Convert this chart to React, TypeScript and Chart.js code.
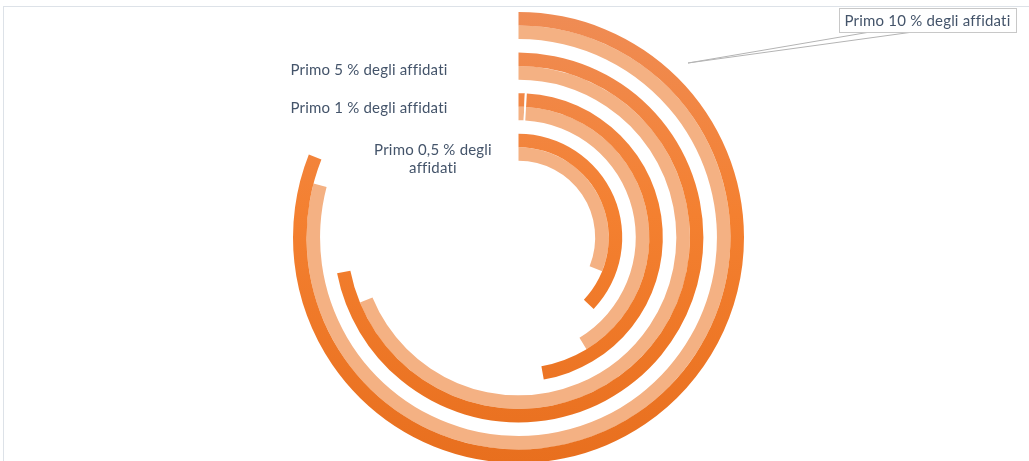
import React, { useEffect, useRef } from 'react';
import { Chart, registerables } from 'chart.js';

Chart.register(...registerables);

// ---- data (percent of a full turn) ----
const categories = [
  'Primo 10 % degli affidati',
  'Primo 5 % degli affidati',
  'Primo 1 % degli affidati',
  'Primo 0,5 % degli affidati',
];
const seriesDark = [81.0, 71.9, 47.2, 37.1];
const seriesLight = [79.1, 68.8, 41.3, 31.1];
// small first slice shown separated by a thin white line (only on "Primo 1 %")
const leadSliceDark = [0, 0, 0.7, 0];
const leadSliceLight = [0, 0, 0.7, 0];
const fullTurn = 100;

// ---- styles ----
const W = 1029;
const H = 461;
const OUTER_RADIUS = 225.5;
const CUTOUT = '34%';
const LIGHT = '#F4B183';
const TEXT = '#44546A';
const FONT = 'Lato, "Open Sans", sans-serif';
const SEP = 0.22;

function darkGradient(chart: any) {
  const area = chart.chartArea;
  if (!area) return '#F07D32';
  const cy = (area.top + area.bottom) / 2;
  const g = chart.ctx.createLinearGradient(0, cy - OUTER_RADIUS, 0, cy + OUTER_RADIUS);
  g.addColorStop(0, '#EF8C55');
  g.addColorStop(0.45, '#F48030');
  g.addColorStop(1, '#E86F1E');
  return g;
}

function ringDataset(value: number, lead: number, kind: 'dark' | 'light', label: string) {
  const data = lead > 0 ? [lead, SEP, value - lead - SEP, fullTurn - value] : [value, fullTurn - value];
  const roles = lead > 0 ? ['fill', 'sep', 'fill', 'none'] : ['fill', 'none'];
  return {
    label,
    data,
    backgroundColor: (ctx: any) => {
      const role = roles[ctx.dataIndex];
      if (role === 'none') return 'rgba(0,0,0,0)';
      if (role === 'sep') return '#FFFFFF';
      return kind === 'dark' ? darkGradient(ctx.chart) : LIGHT;
    },
    borderWidth: 0,
  };
}

function buildDatasets() {
  const ds: any[] = [];
  categories.forEach((cat, i) => {
    ds.push(ringDataset(seriesDark[i], leadSliceDark[i], 'dark', cat + ' (A)'));
    ds.push(ringDataset(seriesLight[i], leadSliceLight[i], 'light', cat + ' (B)'));
    if (i < categories.length - 1) {
      ds.push({ label: 'gap', data: [fullTurn], backgroundColor: 'rgba(0,0,0,0)', borderWidth: 0 });
    }
  });
  return ds;
}

const framePlugin = {
  id: 'frame',
  beforeDraw(chart: any) {
    const ctx = chart.ctx;
    ctx.save();
    ctx.strokeStyle = '#DDE2E8';
    ctx.lineWidth = 1;
    ctx.strokeRect(3.5, 6.5, W + 20, H + 20);
    ctx.restore();
  },
};

const labelPlugin = {
  id: 'ringLabels',
  afterDatasetsDraw(chart: any) {
    const ctx = chart.ctx;
    const arc = chart.getDatasetMeta(0).data[0];
    if (!arc) return;
    const cx = arc.x;
    const cy = arc.y;
    ctx.save();
    ctx.font = '15px ' + FONT;
    try { (ctx as any).letterSpacing = '0.2px'; } catch (e) { /* ignore */ }
    ctx.fillStyle = TEXT;
    ctx.textAlign = 'center';
    ctx.textBaseline = 'alphabetic';

    // Primo 10 % : callout box with wedge leader
    const bx = cx + 320.5;
    const by = cy - 229.5;
    const bw = 177;
    const bh = 24;
    ctx.strokeStyle = '#B4B4B4';
    ctx.lineWidth = 1;
    ctx.beginPath();
    ctx.moveTo(cx + 169.5, cy - 174.5);
    ctx.lineTo(bx + 31, by + bh);
    ctx.moveTo(cx + 169.5, cy - 174.5);
    ctx.lineTo(bx + 74, by + bh);
    ctx.stroke();
    ctx.fillStyle = '#FFFFFF';
    ctx.fillRect(bx, by, bw, bh);
    ctx.strokeStyle = '#C8C8C8';
    ctx.strokeRect(Math.round(bx) + 0.5, Math.round(by) + 0.5, bw, bh);
    ctx.fillStyle = TEXT;
    ctx.fillText(categories[0], bx + bw / 2, by + 18);

    ctx.fillText(categories[1], cx - 149.5, cy - 162.5);
    ctx.fillText(categories[2], cx - 149.5, cy - 124.5);
    ctx.fillText('Primo 0,5 % degli', cx - 85.5, cy - 82.5);
    ctx.fillText('affidati', cx - 85.5, cy - 64.5);
    ctx.restore();
  },
};

export default function App() {
  const ref = useRef<HTMLCanvasElement | null>(null);
  useEffect(() => {
    if (!ref.current) return;
    const chart = new Chart(ref.current, {
      type: 'doughnut',
      data: { labels: ['a', 'b', 'c', 'd'], datasets: buildDatasets() },
      options: {
        responsive: false,
        animation: false,
        events: [],
        radius: OUTER_RADIUS,
        cutout: CUTOUT,
        rotation: 0,
        layout: { padding: { left: 8, right: 0, top: 14, bottom: 0 } },
        plugins: { legend: { display: false }, tooltip: { enabled: false } },
      } as any,
      plugins: [framePlugin, labelPlugin],
    });
    return () => chart.destroy();
  }, []);
  return (
    <div style={{ position: 'fixed', left: 0, top: 0, width: W, height: H, background: '#fff' }}>
      <canvas ref={ref} width={W} height={H} style={{ display: 'block', width: W, height: H }} />
    </div>
  );
}
